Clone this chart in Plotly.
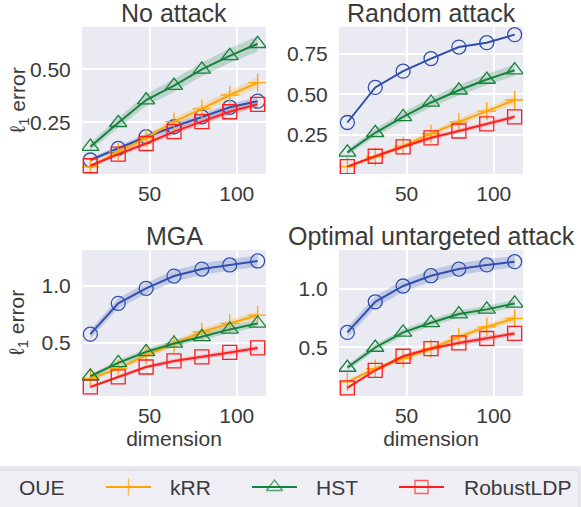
import plotly.graph_objects as go

dims = [16, 32, 48, 64, 80, 96, 112]
methods = ["OUE", "kRR", "HST", "RobustLDP"]
panel_titles = ["No attack", "Random attack", "MGA", "Optimal untargeted attack"]

# mean l1 error per panel / method
no_attack = {
    "OUE": [0.072, 0.127, 0.182, 0.229, 0.276, 0.321, 0.350],
    "kRR": [0.040, 0.111, 0.175, 0.253, 0.313, 0.379, 0.437],
    "HST": [0.135, 0.248, 0.355, 0.423, 0.500, 0.564, 0.621],
    "RobustLDP": [0.045, 0.100, 0.150, 0.206, 0.253, 0.300, 0.335],
}
random_attack = {
    "OUE": [0.327, 0.542, 0.642, 0.719, 0.790, 0.817, 0.866],
    "kRR": [0.056, 0.117, 0.184, 0.258, 0.331, 0.397, 0.465],
    "HST": [0.144, 0.264, 0.362, 0.450, 0.525, 0.591, 0.648],
    "RobustLDP": [0.056, 0.120, 0.178, 0.233, 0.275, 0.318, 0.362],
}
mga = {
    "OUE": [0.576, 0.846, 0.977, 1.085, 1.146, 1.182, 1.217],
    "kRR": [0.188, 0.275, 0.392, 0.494, 0.596, 0.670, 0.743],
    "HST": [0.208, 0.325, 0.421, 0.495, 0.553, 0.618, 0.670],
    "RobustLDP": [0.114, 0.202, 0.289, 0.342, 0.377, 0.416, 0.456],
}
optimal = {
    "OUE": [0.629, 0.891, 1.026, 1.114, 1.171, 1.206, 1.234],
    "kRR": [0.205, 0.320, 0.406, 0.491, 0.591, 0.677, 0.749],
    "HST": [0.329, 0.500, 0.629, 0.711, 0.786, 0.826, 0.877],
    "RobustLDP": [0.154, 0.305, 0.425, 0.491, 0.539, 0.577, 0.620],
}

# half-width of the shaded bands
no_attack_sd = {
    "OUE": [0.010, 0.012, 0.014, 0.015, 0.016, 0.017, 0.018],
    "kRR": [0.008, 0.012, 0.015, 0.018, 0.020, 0.022, 0.024],
    "HST": [0.018, 0.024, 0.028, 0.030, 0.032, 0.034, 0.036],
    "RobustLDP": [0.008, 0.010, 0.012, 0.013, 0.014, 0.015, 0.016],
}
random_sd = {
    "OUE": [0.006, 0.005, 0.005, 0.005, 0.005, 0.005, 0.005],
    "kRR": [0.008, 0.012, 0.015, 0.018, 0.020, 0.022, 0.024],
    "HST": [0.018, 0.024, 0.028, 0.030, 0.032, 0.034, 0.036],
    "RobustLDP": [0.008, 0.010, 0.012, 0.013, 0.014, 0.015, 0.016],
}
mga_sd = {
    "OUE": [0.040, 0.045, 0.048, 0.050, 0.050, 0.050, 0.050],
    "kRR": [0.015, 0.020, 0.025, 0.028, 0.030, 0.032, 0.034],
    "HST": [0.020, 0.025, 0.028, 0.030, 0.030, 0.032, 0.032],
    "RobustLDP": [0.012, 0.015, 0.018, 0.020, 0.020, 0.022, 0.022],
}
optimal_sd = {
    "OUE": [0.045, 0.050, 0.050, 0.050, 0.050, 0.050, 0.050],
    "kRR": [0.015, 0.020, 0.022, 0.025, 0.025, 0.028, 0.030],
    "HST": [0.025, 0.028, 0.030, 0.030, 0.030, 0.032, 0.032],
    "RobustLDP": [0.012, 0.015, 0.018, 0.020, 0.020, 0.022, 0.022],
}

panels = [no_attack, random_attack, mga, optimal]
panels_sd = [no_attack_sd, random_sd, mga_sd, optimal_sd]
y_ranges = [[0.006, 0.70], [0.011, 0.913], [0.035, 1.313], [0.085, 1.334]]
y_ticks = [[0.25, 0.5], [0.25, 0.5, 0.75], [0.5, 1.0], [0.5, 1.0]]
y_fmt = [".2f", ".2f", ".1f", ".1f"]

colors = {"OUE": (48, 80, 176), "kRR": (255, 165, 0), "HST": (22, 130, 60), "RobustLDP": (255, 30, 30)}
symbols = {"OUE": "circle-open", "kRR": "cross-thin-open", "HST": "triangle-up-open", "RobustLDP": "square-open"}
msizes = {"OUE": 14, "kRR": 13, "HST": 15, "RobustLDP": 14}

W, H = 581, 507
col_px = [(82, 266), (339, 523)]
row_px = [(27, 174), (250, 396)]

# legend layout (pixels): left end of each entry's line sample and of its label;
# the first entry's sample sits off the canvas, as in the reference
LEG_LINE_X0 = [-45, 106, 252, 399]
LEG_TEXT_X = [17, 168, 314, 462]
LEG_LINE = 45
LEG_ROW_Y = 487


def px_x(px):
    return px / W


def px_y(py):
    return (H - py) / H


TXT = "#3a3a3a"
FONT = "Liberation Sans, Arial, sans-serif"

fig = go.Figure()
layout = {}
for i in range(4):
    r, c = divmod(i, 2)
    xa = "x" if i == 0 else f"x{i+1}"
    ya = "y" if i == 0 else f"y{i+1}"
    xk = "xaxis" if i == 0 else f"xaxis{i+1}"
    yk = "yaxis" if i == 0 else f"yaxis{i+1}"
    data = panels[i]
    sd = panels_sd[i]
    for m in methods:
        rgb = colors[m]
        up = [v + s for v, s in zip(data[m], sd[m])]
        lo = [v - s for v, s in zip(data[m], sd[m])]
        fig.add_trace(go.Scatter(
            x=dims + dims[::-1], y=up + lo[::-1], fill="toself",
            fillcolor="rgba(%d,%d,%d,0.22)" % rgb, line=dict(width=0),
            mode="lines", hoverinfo="skip", showlegend=False, xaxis=xa, yaxis=ya))
    for m in methods:
        rgb = colors[m]
        col = "rgb(%d,%d,%d)" % rgb
        fig.add_trace(go.Scatter(
            x=dims, y=data[m], mode="lines+markers", name=m,
            line=dict(color=col, width=2),
            marker=dict(symbol=symbols[m], size=msizes[m], color=col, line=dict(color=col, width=1.3)),
            showlegend=False, legendgroup=m, xaxis=xa, yaxis=ya))
    x0, x1 = col_px[c]
    y0, y1 = row_px[r]
    layout[xk] = dict(
        domain=[px_x(x0), px_x(x1)], range=[11.2, 116.8], anchor=ya,
        tickvals=[50, 100], showgrid=True, gridcolor="white", gridwidth=1.5,
        zeroline=False, showline=False, ticks="outside", ticklen=1, tickcolor="rgba(0,0,0,0)",
        tickfont=dict(size=21, color=TXT, family=FONT),
    )
    if r == 1:
        layout[xk]["title"] = dict(text="dimension", font=dict(size=21, color=TXT, family=FONT), standoff=0)
    layout[yk] = dict(
        domain=[px_y(y1), px_y(y0)], range=y_ranges[i], anchor=xa,
        tickvals=y_ticks[i], tickformat=y_fmt[i], showgrid=True, gridcolor="white", gridwidth=1.5,
        zeroline=False, showline=False, ticks="outside", ticklen=6, tickcolor="rgba(0,0,0,0)",
        tickfont=dict(size=21, color=TXT, family=FONT),
    )

annotations = []
for i, t in enumerate(panel_titles):
    r, c = divmod(i, 2)
    x0, x1 = col_px[c]
    y0, y1 = row_px[r]
    annotations.append(dict(
        text=t, x=px_x((x0 + x1) / 2), y=px_y(y0 - 14), xref="paper", yref="paper",
        xanchor="center", yanchor="middle", showarrow=False,
        font=dict(size=25, color=TXT, family=FONT)))
for r in range(2):
    y0, y1 = row_px[r]
    annotations.append(dict(
        text="ℓ<sub>1</sub> error", x=px_x(18), y=px_y((y0 + y1) / 2), xref="paper", yref="paper",
        xanchor="center", yanchor="middle", textangle=-90, showarrow=False,
        font=dict(size=21, color=TXT, family=FONT)))

# ---- legend: a pixel-scaled overlay axis pair along the bottom strip ----
LEG_TOP = 466
layout["xaxis5"] = dict(domain=[0, 1], range=[0, W], visible=False, fixedrange=True, anchor="y5")
layout["yaxis5"] = dict(domain=[0, px_y(LEG_TOP)], range=[H, LEG_TOP], visible=False,
                        fixedrange=True, anchor="x5")

for k, m in enumerate(methods):
    rgb = colors[m]
    col = "rgb(%d,%d,%d)" % rgb
    lx0 = LEG_LINE_X0[k]
    lx1 = lx0 + LEG_LINE
    fig.add_trace(go.Scatter(
        x=[lx0, lx1], y=[LEG_ROW_Y] * 2, mode="lines", name=m,
        line=dict(color=col, width=2),
        hoverinfo="skip", showlegend=False, xaxis="x5", yaxis="y5", cliponaxis=False))
    fig.add_trace(go.Scatter(
        x=[(lx0 + lx1) / 2], y=[LEG_ROW_Y], mode="markers", name=m,
        marker=dict(symbol=symbols[m], size=msizes[m] - 1, color=col, opacity=0.7,
                    line=dict(color=col, width=1.3)),
        hoverinfo="skip", showlegend=False, xaxis="x5", yaxis="y5", cliponaxis=False))
    annotations.append(dict(
        text=m, x=LEG_TEXT_X[k], y=LEG_ROW_Y, xref="x5", yref="y5",
        xanchor="left", yanchor="middle", showarrow=False,
        font=dict(size=21, color=TXT, family=FONT)))

# legend frame (rounded box, partly off-canvas like the reference)
bx0, bx1, by0, by1, rad = -6, 579, 470, 515, 5
frame = (
    f"M {px_x(bx0)},{px_y(by0)} L {px_x(bx1 - rad)},{px_y(by0)} "
    f"Q {px_x(bx1)},{px_y(by0)} {px_x(bx1)},{px_y(by0 + rad)} "
    f"L {px_x(bx1)},{px_y(by1)} L {px_x(bx0)},{px_y(by1)} Z"
)
shapes = [dict(type="path", path=frame, xref="paper", yref="paper",
               fillcolor="#EEEEF4", line=dict(color="#d6d6d6", width=1), layer="below")]

fig.update_layout(
    width=W, height=H, margin=dict(l=0, r=0, t=0, b=0, autoexpand=False),
    paper_bgcolor="white", plot_bgcolor="#EAEAF2",
    annotations=annotations, shapes=shapes,
    showlegend=False,
    **layout,
)

fig.write_html("out.html")
